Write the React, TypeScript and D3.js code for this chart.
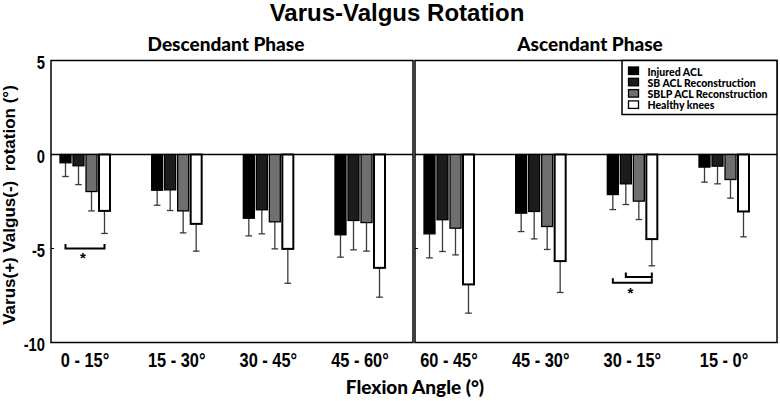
import React from "react";
import * as d3 from "d3";

const descCategories = ["0 - 15°", "15 - 30°", "30 - 45°", "45 - 60°"];
const ascCategories = ["60 - 45°", "45 - 30°", "30 - 15°", "15 - 0°"];
const seriesNames = ["Injured ACL", "SB ACL Reconstruction", "SBLP ACL Reconstruction", "Healthy knees"];

// mean values: descendant (4) then ascendant (4)
const injuredMean = [-0.44, -1.9, -3.39, -4.27, -4.22, -3.12, -2.13, -0.67];
const sbMean = [-0.6, -1.88, -2.94, -3.51, -3.47, -3.03, -1.56, -0.62];
const sblpMean = [-1.97, -3.0, -3.58, -3.62, -3.92, -3.83, -2.48, -1.33];
const healthyMean = [-3.0, -3.69, -5.02, -6.03, -6.91, -5.67, -4.5, -3.03];

// standard deviations
const injuredSD = [0.73, 0.8, 0.94, 1.19, 1.28, 0.98, 0.8, 0.8];
const sbSD = [1.0, 1.1, 1.28, 1.56, 1.69, 1.46, 1.1, 0.94];
const sblpSD = [1.03, 1.17, 1.44, 1.52, 1.42, 1.22, 0.98, 0.99];
const healthySD = [1.2, 1.45, 1.83, 1.56, 1.53, 1.67, 1.42, 1.35];

const yTicks = [5, 0, -5, -10];

// significance brackets: category index (0..7), from series, to series, y value
const sigBrackets = [
  { cat: 0, from: 0, to: 3, y: -5.0 },
  { cat: 6, from: 0, to: 3, y: -6.82 },
  { cat: 6, from: 1, to: 3, y: -6.52 },
];
const sigStars = [
  { cat: 0, y: -5.55 },
  { cat: 6, y: -7.4 },
];

const means = [injuredMean, sbMean, sblpMean, healthyMean];
const sds = [injuredSD, sbSD, sblpSD, healthySD];
const fills = ["#000000", "#1c1c1c", "#6f6f6f", "#ffffff"];

const W = 780;
const H = 401;
const panels = [
  { left: 51, right: 413, cats: descCategories, title: "Descendant Phase" },
  { left: 415, right: 777, cats: ascCategories, title: "Ascendant Phase" },
];
const top = 60.5;
const bottom = 342.5;

const y = d3.scaleLinear().domain([-10, 5]).range([bottom, top]);
const inner = d3.scaleBand<number>().domain([0, 1, 2, 3]).range([-25, 25]).paddingInner(2 / 13);

const sans = "'Liberation Sans', Arial, sans-serif";
const calibri = "Lato, 'Open Sans', sans-serif";

export default function App() {
  const xs = panels.map((p) =>
    d3.scalePoint<string>().domain(p.cats).range([p.left + 34, p.left + 309])
  );
  const catX = (ci: number) => {
    const pi = ci < 4 ? 0 : 1;
    return xs[pi](panels[pi].cats[ci % 4]) as number;
  };
  const barCenter = (ci: number, si: number) => catX(ci) + (inner(si) as number) + inner.bandwidth() / 2;

  return (
    <svg width={W} height={H} style={{ position: "absolute", left: 0, top: 0, background: "#fff" }}>
      <rect x={0} y={0} width={W} height={H} fill="#fff" />
      <text x={397} y={21} textAnchor="middle" fontFamily={sans} fontWeight="bold" fontSize={24}>
        Varus-Valgus Rotation
      </text>
      {panels.map((p, pi) => (
        <g key={pi}>
          <text x={(p.left + p.right) / 2 - 6} y={51} textAnchor="middle" fontFamily={calibri} fontWeight={900} fontSize={19}>
            {p.title}
          </text>
          <rect x={p.left} y={top} width={p.right - p.left} height={bottom - top} fill="none" stroke="#000" strokeWidth={1.5} />
          <line x1={p.left} x2={p.right} y1={y(0)} y2={y(0)} stroke="#000" strokeWidth={1.5} />
          {yTicks.map((t) => (
            <line key={t} x1={p.left} x2={p.left + 3} y1={y(t)} y2={y(t)} stroke="#000" strokeWidth={1} />
          ))}
          {p.cats.map((c) => (
            <text
              key={c}
              transform={`translate(${xs[pi](c)},366.5) scale(0.82,1)`}
              textAnchor="middle"
              fontFamily={sans}
              fontWeight="bold"
              fontSize={20}
            >
              {c}
            </text>
          ))}
        </g>
      ))}
      {yTicks.map((t) => (
        <text
          key={t}
          transform={`translate(45,${y(t) + 8.5}) scale(0.82,1)`}
          textAnchor="end"
          fontFamily={sans}
          fontWeight="bold"
          fontSize={18}
        >
          {t}
        </text>
      ))}
      <text
        transform={`translate(14.5,205) rotate(-90)`}
        textAnchor="middle"
        fontFamily={sans}
        fontWeight="bold"
        fontSize={17}
        style={{ whiteSpace: "pre" }}
      >
        {"Varus(+) Valgus(-)  rotation (°)"}
      </text>
      <text x={415} y={394} textAnchor="middle" fontFamily={calibri} fontWeight={900} fontSize={19}>
        Flexion Angle (°)
      </text>
      {/* bars */}
      {means.map((arr, si) =>
        arr.map((v, ci) => {
          const cx = barCenter(ci, si);
          const bw = inner.bandwidth();
          const y0 = y(0);
          const y1 = y(v);
          const ye = y(v - sds[si][ci]);
          return (
            <g key={`${si}-${ci}`}>
              <line x1={cx} x2={cx} y1={y1} y2={ye} stroke="#3a3a3a" strokeWidth={1.3} />
              <line x1={cx - 3.3} x2={cx + 3.3} y1={ye} y2={ye} stroke="#3a3a3a" strokeWidth={1.3} />
              <rect
                x={cx - bw / 2}
                y={y0}
                width={bw}
                height={y1 - y0}
                fill={fills[si]}
                stroke="#000"
                strokeWidth={si === 3 ? 2 : 1.3}
              />
            </g>
          );
        })
      )}
      {/* significance */}
      {sigBrackets.map((b, i) => {
        const x1 = barCenter(b.cat, b.from);
        const x2 = barCenter(b.cat, b.to);
        const yy = y(b.y);
        return (
          <path
            key={i}
            d={`M${x1},${yy - 4.5}V${yy}H${x2}V${yy - 4.5}`}
            fill="none"
            stroke="#000"
            strokeWidth={2}
          />
        );
      })}
      {sigStars.map((s, i) => (
        <text key={i} x={catX(s.cat) - 2} y={y(s.y) + 4} textAnchor="middle" fontFamily={sans} fontWeight="bold" fontSize={15}>
          *
        </text>
      ))}
      {/* legend */}
      <rect x={622} y={top} width={777 - 622} height={54} fill="#fff" stroke="#000" strokeWidth={1.5} />
      {seriesNames.map((n, i) => (
        <g key={n}>
          <rect x={628.5} y={67 + i * 11.3} width={10} height={7.5} fill={fills[i]} stroke="#000" strokeWidth={1.3} />
          <text x={647.5} y={75.5 + i * 11.3} fontFamily={calibri} fontWeight={900} fontSize={10.5}>
            {n}
          </text>
        </g>
      ))}
    </svg>
  );
}
